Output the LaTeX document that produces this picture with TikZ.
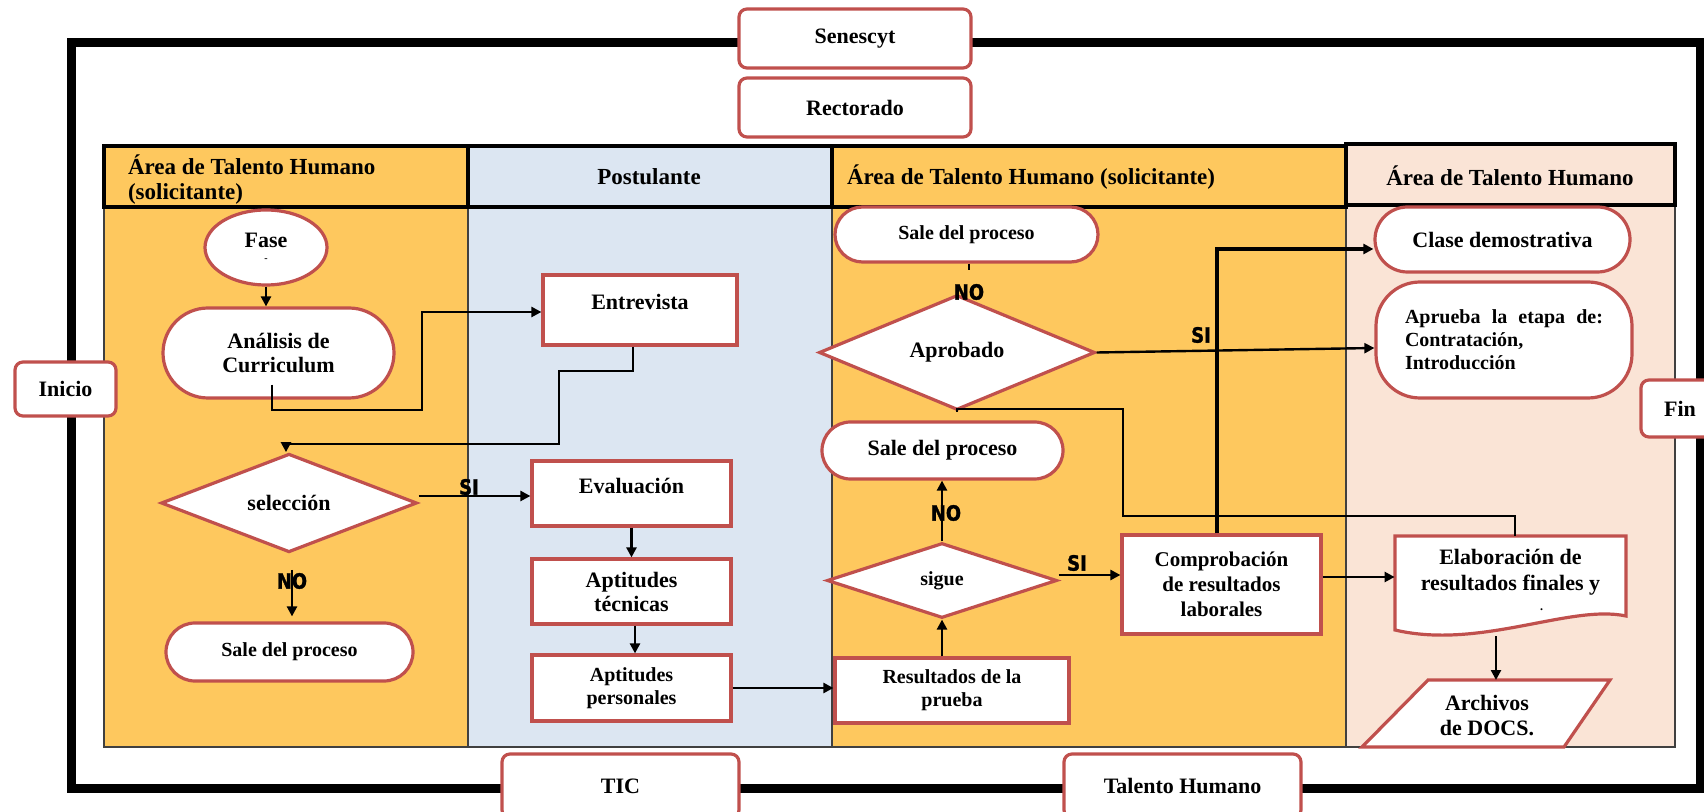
\documentclass[tikz,border=0pt]{standalone}
\usepackage{fontspec}
\setmainfont{Liberation Serif}
\newfontfamily\labfont{DejaVu Sans}[FakeStretch=0.85,BoldFeatures={FakeBold=1.5}]
\usetikzlibrary{arrows.meta,shapes.geometric,shapes.misc}
\definecolor{laneorange}{RGB}{254,200,94}
\definecolor{laneblue}{RGB}{220,230,242}
\definecolor{lanepink}{RGB}{250,228,214}
\definecolor{boxred}{RGB}{192,80,77}
\newcommand\myfs[2]{\bfseries\fontsize{#1}{#2}\selectfont}
\begin{document}
\begin{tikzpicture}[x=0.5pt,y=-0.5pt,
  font=\myfs{11}{13},
  box/.style={draw=boxred,line width=1.6pt,fill=white,inner sep=1pt,align=center},
  rbox/.style={box,rounded corners=4pt},
  stadium/.style={box,rounded rectangle},
  dia/.style={box,diamond,inner sep=0pt},
  conn/.style={line width=1.2pt},
  arr/.style={conn,-{Triangle[length=5pt,width=5pt]}},
  lbl/.style={font=\labfont\bfseries\fontsize{10.5}{10.5}\selectfont,inner sep=0pt},
  frame/.style={line width=4.5pt},
  lanehead/.style={draw=black,line width=1.6pt},
  lanebody/.style={draw=black!75,line width=0.7pt},
  ]
\useasboundingbox (0,0) rectangle (1704,812);

% outer frame
\coordinate (ftl) at (71,43);
\coordinate (fbr) at (1700,788);
\draw[frame] (ftl) rectangle (fbr);

% lanes
\fill[laneorange] (104,207) rectangle (468,747);
\fill[laneblue] (468,207) rectangle (832,747);
\fill[laneorange] (832,207) rectangle (1346,747);
\fill[lanepink] (1346,205) rectangle (1675,747);
\draw[lanebody] (104,207) -- (104,747) -- (1675,747) -- (1675,205);
\draw[lanebody] (468,207) -- (468,747);
\draw[lanebody] (832,207) -- (832,747);
\draw[lanebody] (1346,205) -- (1346,747);
\filldraw[fill=laneorange,lanehead] (104,146) rectangle (468,207);
\filldraw[fill=laneblue,lanehead] (468,146) rectangle (832,207);
\filldraw[fill=laneorange,lanehead] (832,146) rectangle (1346,207);
\filldraw[fill=lanepink,lanehead] (1346,144) rectangle (1675,205);
\node[anchor=west,align=left,font=\myfs{11.5}{12.5}] (h1) at (121,180) {Área de Talento Humano\\(solicitante)};
\node[font=\myfs{11.5}{13}] (h2) at (649,177) {Postulante};
\node[anchor=west,font=\myfs{11.5}{13}] (h3) at (840,177) {Área de Talento Humano (solicitante)};
\node[font=\myfs{11.5}{13}] (h4) at (1510,176) {Área de Talento Humano};

% outside boxes
\node[rbox,minimum width=116pt,minimum height=29.5pt] (senescyt) at (855,38.5) {Senescyt};
\node[rbox,minimum width=116pt,minimum height=29.5pt] (rectorado) at (855,107.5) {Rectorado};
\node[rbox,minimum width=50.5pt,minimum height=27pt] (inicio) at (65.5,389) {Inicio};
\node[rbox,minimum width=39pt,minimum height=28.5pt] (fin) at (1680,408.5) {Fin};
\node[rbox,minimum width=118.5pt,minimum height=32pt] (tic) at (620.5,786) {TIC};
\node[rbox,minimum width=118.5pt,minimum height=32pt] (talento) at (1182.5,786) {Talento Humano};

% lane 1
\node[box,ellipse,minimum width=61pt,minimum height=37.5pt,inner sep=0pt] (fase) at (266,247.5) {Fase\\[-6pt]{\fontsize{5}{5}\selectfont -}};
\node[stadium,minimum width=117.5pt,minimum height=45pt,font=\myfs{11}{12}] (analisis) at (278.5,353) {Análisis de\\Curriculum};
\node[dia,minimum width=128pt,minimum height=40pt] (seleccion) at (289,503) {selección};
\node[stadium,minimum width=125.5pt,minimum height=29pt,font=\myfs{10}{12}] (sale1) at (289.5,652) {Sale del proceso};

% lane 2
\node[box,minimum width=97pt,minimum height=35pt,text depth=8pt] (entrevista) at (640,310) {Entrevista};
\node[box,minimum width=99.5pt,minimum height=32.5pt,text depth=8pt] (evaluacion) at (631.5,493.5) {Evaluación};
\node[box,minimum width=99.5pt,minimum height=32.5pt,font=\myfs{11}{12}] (tecnicas) at (631.5,591.5) {Aptitudes\\técnicas};
\node[box,minimum width=99.5pt,minimum height=33pt,font=\myfs{10}{11.5}] (personales) at (631.5,688) {Aptitudes\\personales};

% lane 3
\node[stadium,minimum width=133.5pt,minimum height=27.5pt,font=\myfs{10}{12}] (sale2) at (966.5,234.5) {Sale del proceso};
\node[dia,minimum width=138pt,minimum height=47.5pt] (aprobado) at (957,352.5) {Aprobado};
\node[stadium,minimum width=122.5pt,minimum height=28.5pt] (sale3) at (942.5,450.5) {Sale del proceso};
\node[dia,minimum width=115pt,minimum height=37.5pt,font=\myfs{10}{12}] (sigue) at (942,580.5) {sigue};
\node[box,minimum width=117pt,minimum height=32.5pt,font=\myfs{10}{11.5}] (resultados) at (952,690.5) {Resultados de la\\prueba};
\node[box,minimum width=99.5pt,minimum height=49.5pt,font=\myfs{10.5}{12.5}] (comprobacion) at (1221.5,584.5) {Comprobación\\de resultados\\laborales};

% lane 4
\node[stadium,minimum width=129.5pt,minimum height=32.5pt] (clase) at (1502.5,239.5) {Clase demostrativa};
\node[box,rounded corners=22pt,minimum width=128pt,minimum height=58pt,align=left,font=\myfs{10}{11.5}] (aprueba) at (1504,340) {\makebox[99pt][s]{Aprueba la etapa de:}\\Contratación,\\Introducción};
\draw[draw=boxred,line width=1.6pt,fill=white] (1395,536) -- (1626,536) -- (1626,616) .. controls (1570,604) and (1480,650) .. (1395,630) -- cycle;
\node[align=center,font=\myfs{11}{13},minimum width=115.5pt,minimum height=44pt,inner sep=0pt] (elaboracion) at (1510.5,580) {Elaboración de\\resultados finales y\\[-3pt]{\hspace*{31pt}\fontsize{6}{6}\selectfont .}};
\draw[draw=boxred,line width=1.6pt,fill=white] (1428,680) -- (1610,680) -- (1564,747) -- (1362,747) -- cycle;
\node[align=center,font=\myfs{11}{12.5}] (archivos) at (1487,716) {Archivos\\de DOCS.};
\coordinate (archtop) at (1496,680);

% connectors
\coordinate (c1) at (422,410);
\coordinate (c2) at (559,371);
\coordinate (c3) at (286,444);
\coordinate (c4) at (1123,409);
\coordinate (c5) at (1515,516);
\draw[arr] (fase.south) -- (fase.south |- analisis.north);
\draw[arr] ([xshift=-3.25pt,yshift=7.5pt]analisis.south) |- (c1) |- ([yshift=-1pt]entrevista.west);
\draw[arr] ([xshift=-3.5pt]entrevista.south) |- (c2) |- (c3) -- (c3 |- seleccion.north);
\draw[arr] ([yshift=3.5pt]seleccion.east) -- ([yshift=3.5pt]seleccion.east -| evaluacion.west);
\draw[arr] ([xshift=1.5pt,yshift=-8pt]seleccion.south) -- ([xshift=1.25pt,yshift=2.5pt]sale1.north);
\draw[arr] (evaluacion.south) -- (tecnicas.north);
\draw[arr] ([xshift=1.75pt]tecnicas.south) -- ([xshift=1.75pt]personales.north);
\draw[arr] (personales.east) -- (personales.east -| resultados.west);
\draw[arr] (sigue.south |- resultados.north) -- (sigue.south);
\draw[arr] (sigue.north) -- (sigue.north |- sale3.south);
\draw[arr] ([yshift=2.75pt]sigue.east) -- ([yshift=2.75pt]sigue.east -| comprobacion.west);
\draw[arr] ([yshift=3.75pt]comprobacion.east) -- ([yshift=3.75pt]comprobacion.east -| elaboracion.west);
\draw[arr,line width=1.8pt] ([xshift=-2.25pt]comprobacion.north) |- ([yshift=-4.75pt]clase.west);
\draw[arr] (aprobado.east) -- ([yshift=-4pt]aprueba.west);
\draw[conn] (aprobado.south) |- (c4) |- (c5) -- (c5 |- elaboracion.north);
\draw[conn] ([xshift=1.25pt]sale2.south) -- ([xshift=6pt,yshift=11.5pt]aprobado.north);
\draw[arr] ([xshift=-7.25pt,yshift=-6pt]elaboracion.south) -- (archtop);

% labels
\node[lbl] (si1) at (469,487) {SI};
\node[lbl] (no1) at (292,581) {NO};
\node[lbl] (no2) at (969,292) {NO};
\node[lbl] (si2) at (1201,335) {SI};
\node[lbl] (no3) at (946,513) {NO};
\node[lbl] (si3) at (1077,563) {SI};
\end{tikzpicture}
\end{document}
